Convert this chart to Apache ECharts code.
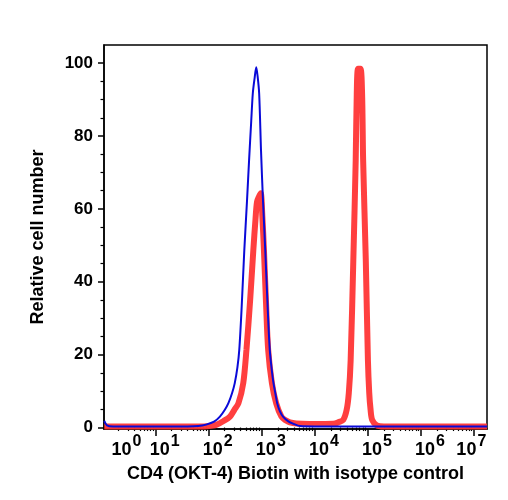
<!DOCTYPE html>
<html>
<head>
<meta charset="utf-8">
<script src="https://cdn.jsdelivr.net/npm/echarts@6/dist/echarts.min.js"></script>
<style>
  html, body { margin: 0; padding: 0; background: #fff; }
  #chart { width: 508px; height: 500px; }
</style>
</head>
<body>
<div id="chart"></div>
<script>
// x values are log10 of fluorescence intensity
const isotypeX = [0.03, 0.08, 0.2, 1.0, 1.6, 1.8, 1.95, 2.1, 2.21, 2.3, 2.37, 2.44, 2.49, 2.54, 2.575, 2.62, 2.67, 2.72, 2.76, 2.8, 2.83, 2.865, 2.895, 2.92, 2.95, 2.985, 3.02, 3.065, 3.11, 3.15, 3.19, 3.22, 3.26, 3.29, 3.34, 3.4, 3.5, 3.6, 3.72, 4.0, 7.245]
const isotypeY = [1.8, 0.6, 0.3, 0.3, 0.3, 0.4, 0.8, 1.6, 3, 4.8, 6.7, 9.5, 12.2, 16.5, 21.3, 33, 48.7, 62, 73.4, 84, 91.7, 96, 98.9, 96.5, 91.7, 76, 63, 48.7, 33, 21.3, 15.5, 12.2, 9, 6.7, 4.5, 3, 1.7, 1, 0.4, 0.3, 0.3]

const cd4X = [0.03, 1.5, 1.9, 2.05, 2.15, 2.28, 2.4, 2.48, 2.56, 2.65, 2.71, 2.78, 2.84, 2.88, 2.91, 2.95, 2.98, 3.01, 3.04, 3.08, 3.12, 3.19, 3.27, 3.37, 3.45, 3.53, 3.65, 3.9, 4.2, 4.38, 4.45, 4.535, 4.6, 4.64, 4.675, 4.725, 4.77, 4.79, 4.815, 4.86, 4.89, 4.91, 4.96, 5.0, 5.025, 5.05, 5.08, 5.165, 5.3, 7.245]
const cd4Y = [0.3, 0.3, 0.3, 0.5, 0.8, 1.8, 3, 4.8, 6.7, 12.2, 21.3, 35, 48.7, 57, 62, 63.5, 64.3, 58, 48.7, 34, 21.3, 12.2, 6.7, 3, 2, 1.4, 1.1, 1.0, 1.0, 1.1, 1.5, 2.1, 4.9, 9.5, 18.6, 46, 73.4, 91.7, 98.5, 98.5, 91.7, 73.4, 46, 18.6, 9.5, 4.9, 2.1, 0.6, 0.3, 0.3]

const decades = [1, 2, 3, 4, 5, 6, 7]
const decadeLabelPos = [0.28, 1, 2, 3, 4, 5, 6, 6.78]
const yTicks = [0, 20, 40, 60, 80, 100]
const yMinorTicks = [5, 10, 15, 25, 30, 35, 45, 50, 55, 65, 70, 75, 85, 90, 95]

const xMin = 0.025, xMax = 7.245

const minorX = []
for (let n = 0; n < 8; n++) {
    for (let k = 2; k < 10; k++) {
        const v = n + Math.log10(k)
        if (v > xMin && v < xMax) minorX.push(v)
    }
}

const font = '"Liberation Sans", Arial, Helvetica, sans-serif'
const zip = (xs, ys) => xs.map((x, i) => [x, ys[i]])

const myChart = echarts.init(document.getElementById('chart'))

myChart.setOption({
    animation: false,
    grid: {
        left: 104, right: 21, top: 45, bottom: 71,
        show: true, borderColor: '#000', borderWidth: 1.5, backgroundColor: 'transparent'
    },
    xAxis: [{
        type: 'value', min: xMin, max: xMax,
        name: 'CD4 (OKT-4) Biotin with isotype control',
        nameLocation: 'middle', nameGap: 36,
        nameTextStyle: { fontFamily: font, fontWeight: 'bold', fontSize: 18, color: '#000' },
        axisLine: { onZero: false, lineStyle: { color: '#000', width: 1.5 } },
        axisTick: { customValues: decades, length: 7, lineStyle: { color: '#000', width: 1.5 } },
        axisLabel: {
            customValues: decadeLabelPos, margin: 5, padding: [0, 0, 0, 18],
            formatter: v => '{b|10}{s|' + Math.round(v) + '}',
            rich: {
                b: { fontFamily: font, fontWeight: 'bold', fontSize: 18, color: '#000', verticalAlign: 'bottom' },
                s: { fontFamily: font, fontWeight: 'bold', fontSize: 16, color: '#000', padding: [0, 0, 9, 1], verticalAlign: 'bottom' }
            }
        },
        splitLine: { show: false }
    }, {
        type: 'value', min: xMin, max: xMax, position: 'bottom',
        axisLine: { show: false },
        axisTick: { customValues: minorX, length: 3.5, lineStyle: { color: '#000', width: 1.2 } },
        axisLabel: { show: false },
        splitLine: { show: false }
    }],
    yAxis: [{
        type: 'value', min: -0.4, max: 105,
        name: 'Relative cell number',
        nameLocation: 'middle', nameGap: 57,
        nameTextStyle: { fontFamily: font, fontWeight: 'bold', fontSize: 18, color: '#000' },
        axisLine: { show: true, onZero: false, lineStyle: { color: '#000', width: 1.5 } },
        axisTick: { show: true, customValues: yTicks, length: 6, lineStyle: { color: '#000', width: 1.5 } },
        axisLabel: { customValues: yTicks, margin: 11, fontFamily: font, fontWeight: 'bold', fontSize: 17, color: '#000' },
        splitLine: { show: false }
    }, {
        type: 'value', min: -0.4, max: 105, position: 'left',
        axisLine: { show: false },
        axisTick: { show: true, customValues: yMinorTicks, length: 3.5, lineStyle: { color: '#000', width: 1.2 } },
        axisLabel: { show: false },
        splitLine: { show: false }
    }],
    series: [{
        name: 'CD4', type: 'line', data: zip(cd4X, cd4Y),
        showSymbol: false, smooth: 0.3, z: 2,
        lineStyle: { color: '#ff3535', width: 6, opacity: 0.95 }
    }, {
        name: 'Isotype', type: 'line', data: zip(isotypeX, isotypeY),
        showSymbol: false, smooth: 0.3, z: 3,
        lineStyle: { color: '#0a0ad8', width: 2 }
    }]
})
</script>
</body>
</html>
